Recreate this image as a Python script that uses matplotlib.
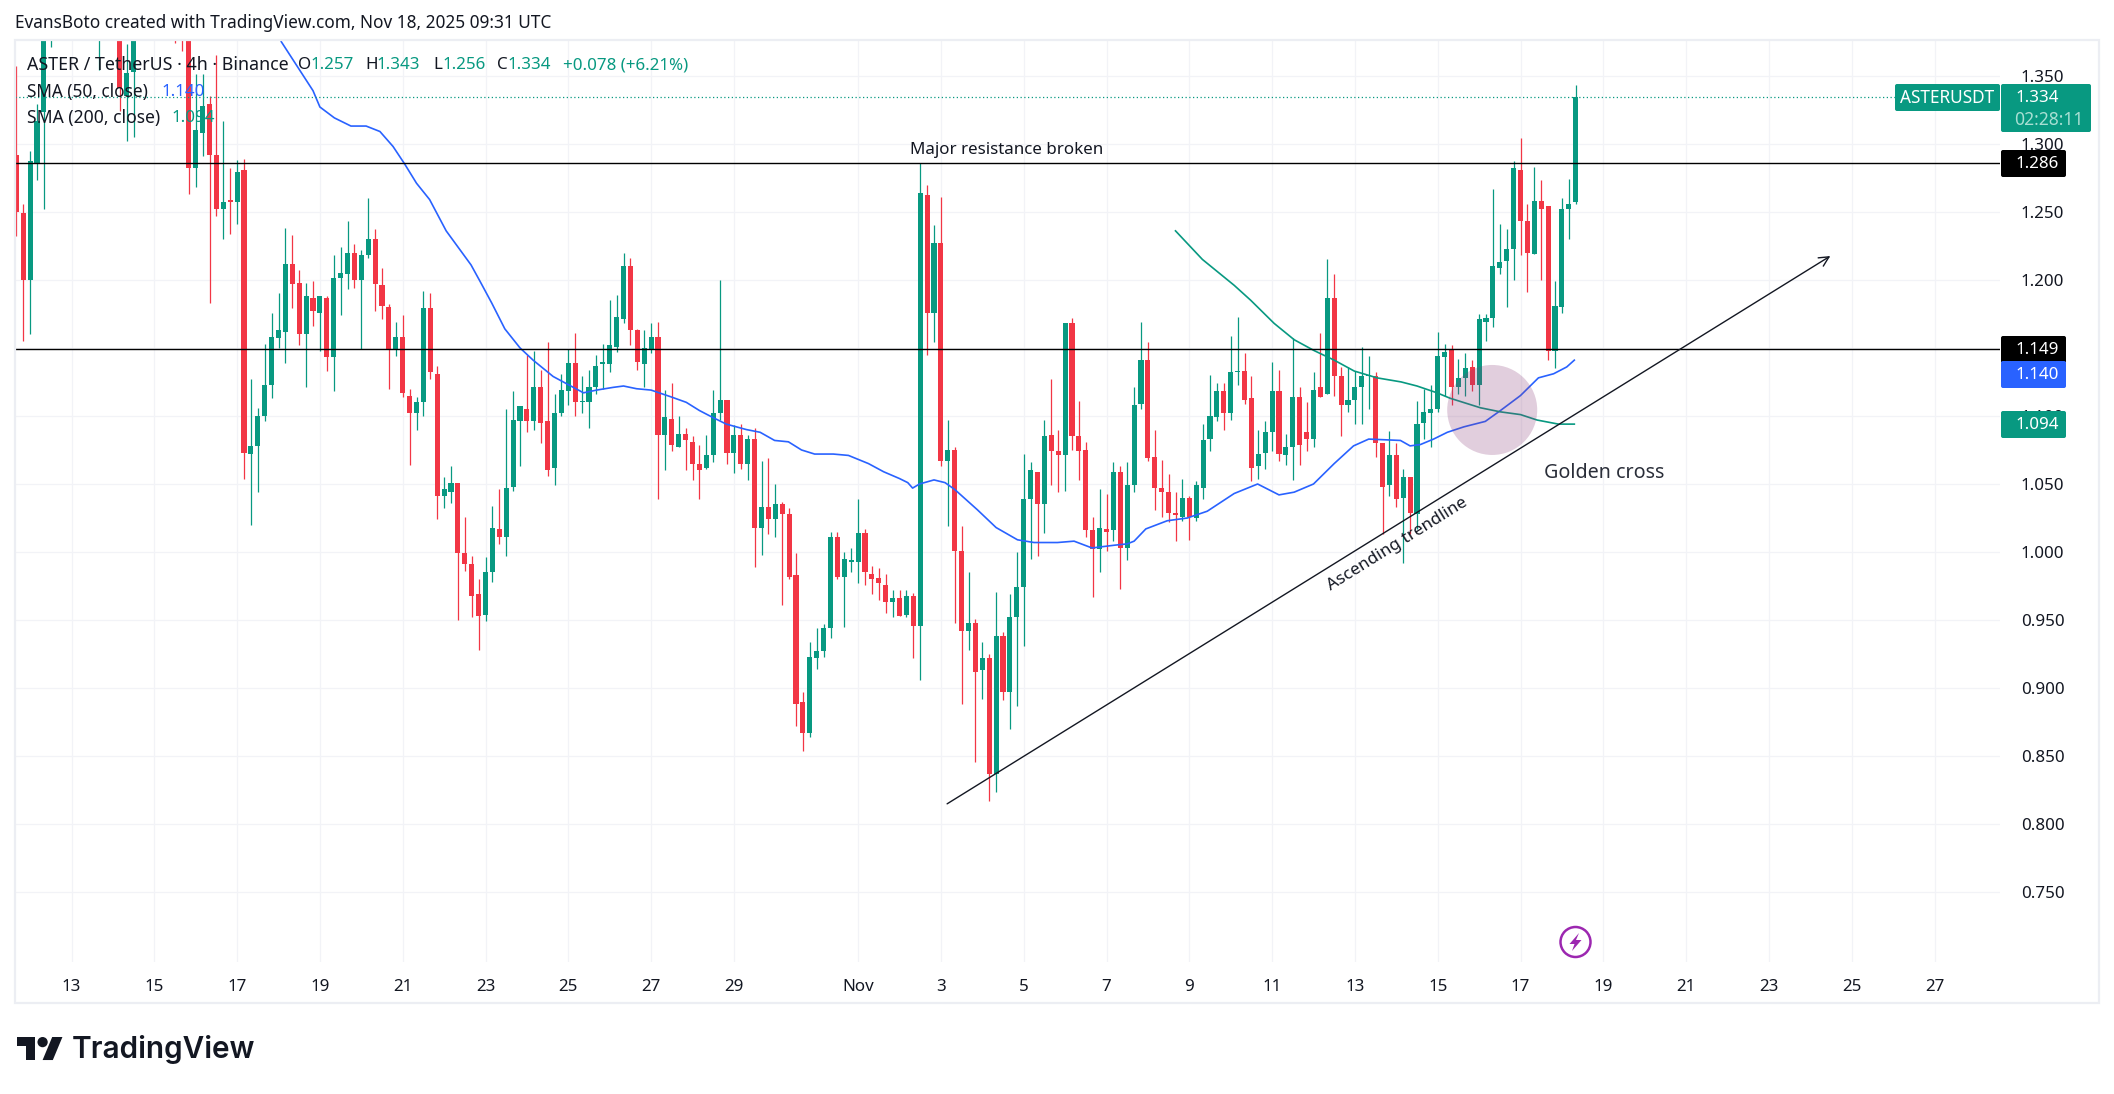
import matplotlib
matplotlib.use('Agg')
import matplotlib.pyplot as plt
from matplotlib.patches import Circle, Ellipse, FancyBboxPatch, Polygon, Rectangle

plt.rcParams['font.family'] = ['Noto Sans', 'DejaVu Sans']

GREEN = '#089981'
RED = '#F23645'
BLUE = '#2962FF'
GRID = '#F2F3F7'

W, H = 2114, 1094

# 4h candles, first one is Oct 11 16:00 utc. those above the pane top are guessed
opens = [
    1.292, 1.249, 1.200, 1.285, 1.323, 1.402, 1.43, 1.45, 1.42, 1.44,
    1.42, 1.43, 1.41, 1.43, 1.41, 1.40, 1.335, 1.353, 1.395, 1.42,
    1.41, 1.43, 1.41, 1.40, 1.395, 1.39, 1.282, 1.308, 1.329, 1.292,
    1.252, 1.259, 1.257, 1.281, 1.072, 1.078, 1.100, 1.123, 1.157, 1.162,
    1.212, 1.198, 1.160, 1.187, 1.176, 1.187, 1.143, 1.201, 1.204, 1.220,
    1.200, 1.218, 1.230, 1.196, 1.180, 1.149, 1.158, 1.115, 1.102, 1.110,
    1.179, 1.131, 1.041, 1.044, 1.051, 0.999, 0.991, 0.969, 0.954, 0.985,
    1.017, 1.011, 1.048, 1.096, 1.105, 1.096, 1.121, 1.096, 1.062, 1.102,
    1.118, 1.139, 1.110, 1.110, 1.121, 1.138, 1.138, 1.151, 1.171, 1.210,
    1.163, 1.138, 1.149, 1.158, 1.086, 1.098, 1.077, 1.087, 1.081, 1.065,
    1.062, 1.071, 1.102, 1.112, 1.073, 1.086, 1.065, 1.083, 1.018, 1.033,
    1.024, 1.035, 1.028, 0.983, 0.890, 0.867, 0.922, 0.927, 0.944, 1.011,
    0.982, 0.993, 0.993, 1.014, 0.984, 0.981, 0.976, 0.963, 0.966, 0.954,
    0.968, 0.946, 1.262, 1.176, 1.227, 1.067, 1.075, 1.001, 0.942, 0.948,
    0.913, 0.922, 0.837, 0.938, 0.897, 0.952, 0.974, 1.039, 1.059, 1.035,
    1.086, 1.074, 1.071, 1.168, 1.085, 1.075, 1.016, 1.002, 1.017, 1.016,
    1.059, 1.003, 1.049, 1.109, 1.141, 1.070, 1.047, 1.044, 1.029, 1.026,
    1.040, 1.025, 1.047, 1.083, 1.099, 1.118, 1.102, 1.132, 1.133, 1.113,
    1.063, 1.073, 1.088, 1.118, 1.071, 1.077, 1.114, 1.088, 1.083, 1.121,
    1.116, 1.187, 1.129, 1.108, 1.112, 1.121, 1.129, 1.129, 1.080, 1.049,
    1.071, 1.040, 1.055, 1.028, 1.095, 1.102, 1.105, 1.143, 1.149, 1.121,
    1.128, 1.136, 1.123, 1.169, 1.172, 1.209, 1.214, 1.223, 1.281, 1.243,
    1.219, 1.258, 1.254, 1.148, 1.180, 1.252, 1.257,
]
highs = [
    1.357, 1.256, 1.295, 1.329, 1.425, 1.45, 1.47, 1.46, 1.46, 1.45,
    1.45, 1.44, 1.45, 1.44, 1.42, 1.42, 1.373, 1.41, 1.44, 1.44,
    1.45, 1.44, 1.43, 1.42, 1.41, 1.41, 1.351, 1.351, 1.335, 1.365,
    1.317, 1.282, 1.288, 1.289, 1.127, 1.106, 1.153, 1.176, 1.190, 1.238,
    1.233, 1.207, 1.198, 1.199, 1.188, 1.188, 1.218, 1.224, 1.243, 1.226,
    1.222, 1.260, 1.237, 1.209, 1.182, 1.169, 1.174, 1.120, 1.114, 1.192,
    1.190, 1.137, 1.055, 1.063, 1.051, 1.026, 0.997, 0.980, 0.996, 1.034,
    1.046, 1.105, 1.118, 1.107, 1.145, 1.148, 1.134, 1.154, 1.116, 1.131,
    1.149, 1.161, 1.129, 1.134, 1.145, 1.153, 1.185, 1.189, 1.220, 1.216,
    1.164, 1.163, 1.168, 1.169, 1.119, 1.124, 1.100, 1.091, 1.085, 1.079,
    1.086, 1.119, 1.200, 1.112, 1.093, 1.094, 1.086, 1.091, 1.067, 1.069,
    1.050, 1.037, 1.032, 0.999, 0.897, 0.934, 0.944, 0.947, 1.015, 1.015,
    1.000, 1.003, 1.039, 1.017, 0.990, 0.988, 0.984, 0.972, 0.972, 0.972,
    0.970, 1.286, 1.270, 1.240, 1.261, 1.097, 1.077, 1.019, 0.985, 0.951,
    0.934, 0.925, 0.971, 0.941, 0.969, 1.000, 1.072, 1.066, 1.059, 1.097,
    1.127, 1.090, 1.168, 1.172, 1.111, 1.081, 1.026, 1.046, 1.043, 1.066,
    1.063, 1.066, 1.121, 1.169, 1.154, 1.090, 1.068, 1.057, 1.044, 1.054,
    1.041, 1.052, 1.094, 1.130, 1.124, 1.124, 1.159, 1.173, 1.146, 1.129,
    1.090, 1.096, 1.140, 1.134, 1.087, 1.157, 1.121, 1.110, 1.132, 1.161,
    1.215, 1.204, 1.136, 1.136, 1.133, 1.151, 1.144, 1.132, 1.080, 1.089,
    1.080, 1.061, 1.055, 1.111, 1.120, 1.123, 1.162, 1.153, 1.152, 1.142,
    1.146, 1.141, 1.175, 1.175, 1.267, 1.241, 1.237, 1.287, 1.304, 1.256,
    1.283, 1.273, 1.254, 1.199, 1.260, 1.274, 1.343,
]
lows = [
    1.232, 1.155, 1.160, 1.273, 1.252, 1.371, 1.41, 1.40, 1.41, 1.40,
    1.405, 1.395, 1.354, 1.39, 1.385, 1.324, 1.302, 1.305, 1.385, 1.39,
    1.40, 1.39, 1.385, 1.374, 1.368, 1.263, 1.268, 1.291, 1.183, 1.247,
    1.230, 1.234, 1.241, 1.054, 1.020, 1.044, 1.096, 1.113, 1.150, 1.139,
    1.179, 1.152, 1.121, 1.166, 1.148, 1.133, 1.118, 1.174, 1.193, 1.194,
    1.149, 1.216, 1.177, 1.171, 1.120, 1.144, 1.114, 1.064, 1.090, 1.100,
    1.127, 1.024, 1.032, 1.036, 0.950, 0.986, 0.952, 0.928, 0.949, 0.978,
    1.006, 0.997, 1.045, 1.063, 1.088, 1.090, 1.080, 1.056, 1.049, 1.100,
    1.108, 1.100, 1.102, 1.091, 1.116, 1.120, 1.132, 1.147, 1.168, 1.152,
    1.134, 1.121, 1.146, 1.039, 1.060, 1.074, 1.077, 1.060, 1.053, 1.039,
    1.061, 1.066, 1.097, 1.065, 1.058, 1.061, 1.053, 0.989, 0.998, 1.013,
    1.011, 0.961, 0.980, 0.872, 0.854, 0.864, 0.914, 0.923, 0.937, 0.980,
    0.945, 0.985, 0.977, 0.976, 0.969, 0.965, 0.955, 0.952, 0.953, 0.952,
    0.922, 0.906, 1.145, 1.154, 1.063, 1.019, 0.948, 0.888, 0.928, 0.846,
    0.892, 0.817, 0.824, 0.891, 0.870, 0.887, 0.931, 0.995, 0.997, 1.014,
    1.049, 1.044, 1.045, 1.075, 1.053, 1.011, 0.967, 0.985, 1.001, 1.008,
    0.973, 0.994, 1.044, 1.105, 1.067, 1.031, 1.026, 1.022, 1.008, 1.023,
    1.009, 1.023, 1.039, 1.074, 1.096, 1.090, 1.097, 1.123, 1.109, 1.052,
    1.054, 1.061, 1.074, 1.067, 1.064, 1.053, 1.064, 1.074, 1.077, 1.114,
    1.116, 1.115, 1.085, 1.103, 1.094, 1.094, 1.105, 1.070, 1.013, 1.041,
    1.033, 0.992, 1.013, 1.017, 1.083, 1.077, 1.103, 1.115, 1.108, 1.116,
    1.115, 1.118, 1.108, 1.155, 1.165, 1.204, 1.180, 1.200, 1.218, 1.191,
    1.219, 1.200, 1.141, 1.135, 1.176, 1.230, 1.256,
]
closes = [
    1.250, 1.200, 1.287, 1.317, 1.402, 1.43, 1.45, 1.42, 1.44, 1.42,
    1.43, 1.41, 1.43, 1.41, 1.40, 1.341, 1.352, 1.395, 1.42, 1.41,
    1.43, 1.41, 1.40, 1.395, 1.39, 1.282, 1.310, 1.328, 1.292, 1.252,
    1.257, 1.257, 1.279, 1.073, 1.078, 1.100, 1.123, 1.158, 1.163, 1.212,
    1.197, 1.160, 1.188, 1.177, 1.188, 1.143, 1.201, 1.205, 1.220, 1.200,
    1.218, 1.230, 1.197, 1.181, 1.149, 1.158, 1.117, 1.102, 1.110, 1.179,
    1.132, 1.041, 1.046, 1.051, 0.999, 0.991, 0.968, 0.953, 0.985, 1.018,
    1.011, 1.047, 1.097, 1.107, 1.096, 1.121, 1.095, 1.060, 1.102, 1.119,
    1.139, 1.110, 1.111, 1.121, 1.137, 1.140, 1.152, 1.173, 1.210, 1.163,
    1.140, 1.150, 1.158, 1.086, 1.099, 1.079, 1.087, 1.082, 1.065, 1.060,
    1.071, 1.102, 1.112, 1.073, 1.086, 1.065, 1.083, 1.018, 1.033, 1.024,
    1.035, 1.028, 0.982, 0.888, 0.867, 0.923, 0.927, 0.944, 1.011, 0.982,
    0.995, 0.994, 1.014, 0.985, 0.980, 0.977, 0.963, 0.966, 0.953, 0.968,
    0.946, 1.264, 1.176, 1.227, 1.067, 1.075, 1.001, 0.942, 0.948, 0.912,
    0.922, 0.837, 0.938, 0.897, 0.952, 0.974, 1.039, 1.060, 1.035, 1.085,
    1.074, 1.071, 1.168, 1.085, 1.074, 1.016, 1.002, 1.018, 1.015, 1.059,
    1.003, 1.049, 1.108, 1.141, 1.069, 1.047, 1.044, 1.029, 1.027, 1.040,
    1.026, 1.049, 1.082, 1.100, 1.118, 1.102, 1.132, 1.133, 1.112, 1.062,
    1.072, 1.088, 1.118, 1.072, 1.077, 1.114, 1.079, 1.083, 1.119, 1.114,
    1.187, 1.129, 1.108, 1.112, 1.121, 1.129, 1.130, 1.080, 1.048, 1.071,
    1.039, 1.055, 1.029, 1.094, 1.103, 1.105, 1.144, 1.147, 1.121, 1.128,
    1.135, 1.123, 1.171, 1.172, 1.210, 1.213, 1.223, 1.282, 1.243, 1.220,
    1.258, 1.252, 1.148, 1.181, 1.252, 1.256, 1.334,
]

sma50_pos = [
    38.4, 43, 44, 46.1, 48.5, 50.7, 52.7, 54.6, 56.3, 58, 59.9, 62.3, 65.9, 67.2,
    68.9, 70.8, 73, 74.9, 77.8, 80, 82.2, 84.1, 86.5, 88, 89.9, 92, 94.9, 97.1,
    99, 100.9, 102.9, 105.8, 107.8, 109.9, 111.9, 113.8, 115.7, 118.4, 120.6,
    123.5, 125.7, 128, 129.2, 129.9, 130.9, 133, 134.6, 136, 139.3, 142, 145.1,
    147.5, 150.9, 153.3, 155.9, 159.1, 161, 162, 163.7, 166.8, 169.7, 172.6,
    176.5, 179.9, 183, 185.2, 188, 191, 193.8, 196, 200.6, 202, 203.5, 205.4,
    207.4, 209.8, 212.9, 215.1, 218, 220.6, 222.8, 224.7, 225.8,
]
sma50 = [
    1.375, 1.339, 1.327, 1.319, 1.313, 1.313, 1.309, 1.298, 1.285, 1.271, 1.259, 1.236, 1.211, 1.199,
    1.183, 1.164, 1.150, 1.141, 1.129, 1.123, 1.117, 1.119, 1.121, 1.122, 1.120, 1.119, 1.114, 1.110,
    1.104, 1.099, 1.094, 1.090, 1.088, 1.082, 1.081, 1.075, 1.072, 1.072, 1.071,
    1.065, 1.059, 1.054, 1.051, 1.047, 1.050, 1.053, 1.051, 1.046, 1.031, 1.018, 1.009,
    1.007, 1.007, 1.008, 1.003, 1.005, 1.006, 1.008, 1.017, 1.023, 1.025, 1.030,
    1.043, 1.050, 1.042, 1.044, 1.050, 1.065, 1.078, 1.083, 1.082, 1.078, 1.079, 1.083,
    1.088, 1.092, 1.096, 1.104, 1.115, 1.128, 1.131, 1.136, 1.141,
]
sma200_pos = [
    168, 171.9, 176.5, 178.9, 182.3, 185.2, 188.1, 191, 193.9, 197.2, 200.7,
    203, 205.9, 207.8, 212.2, 215.1, 218, 220.4, 223.5, 225.8,
]
sma200 = [
    1.236, 1.215, 1.196, 1.185, 1.168, 1.156, 1.148, 1.141, 1.133, 1.128, 1.125,
    1.122, 1.117, 1.113, 1.106, 1.103, 1.101, 1.097, 1.094, 1.094,
]

resistance = 1.286
support = 1.149
last_price = 1.334
trend_pos = [134.9, 262.9]
trend_val = [0.815, 1.2175]

price_ticks = [0.75, 0.80, 0.85, 0.90, 0.95, 1.00, 1.05, 1.10, 1.15, 1.20, 1.25, 1.30, 1.35]
# days after Oct 13
tick_days = [0, 2, 4, 6, 8, 10, 12, 14, 16, 19, 21, 23, 25, 27, 29, 31, 33, 35, 37, 39, 41, 43, 45]
tick_labels = ['13', '15', '17', '19', '21', '23', '25', '27', '29', 'Nov', '3', '5', '7', '9',
               '11', '13', '15', '17', '19', '21', '23', '25', '27']
tick_pos = [8 + 6 * d for d in tick_days]

# pane in picture pixels, and what they are in candles / price
left, right, top, bottom = 15, 2000, 40, 962
bar_px = 6.9
x_first = 16.3
y_px_per_unit = 1361
y_135 = 75.7

fig = plt.figure(figsize=(W / 100, H / 100), dpi=100, facecolor='white')
ax = fig.add_axes([left / W, 1 - bottom / H, (right - left) / W, (bottom - top) / H])
ax.set_xlim((left - x_first) / bar_px, (right - x_first) / bar_px)
ax.set_ylim(1.35 - (bottom - y_135) / y_px_per_unit, 1.35 + (y_135 - top) / y_px_per_unit)

for s in ax.spines.values():
    s.set_visible(False)
ax.set_axisbelow(True)
ax.grid(color=GRID, lw=0.9)

ax.yaxis.tick_right()
ax.set_yticks(price_ticks)
ax.set_yticklabels([f'{p:.3f}' for p in price_ticks])
ax.tick_params(axis='y', length=0, pad=15, labelsize=12.2, labelcolor='#131722')
ax.set_xticks(tick_pos)
ax.set_xticklabels(tick_labels)
ax.tick_params(axis='x', length=0, pad=12, labelsize=12.2, labelcolor='#131722')
for lab in ax.get_xticklabels():
    if lab.get_text() == 'Nov':
        lab.set_fontweight('semibold')

# candles
for i in range(len(opens)):
    col = GREEN if closes[i] >= opens[i] else RED
    ax.vlines(i, lows[i], highs[i], color=col, lw=0.9, zorder=2)
    ax.bar(i, max(abs(closes[i] - opens[i]), 0.0012), bottom=min(opens[i], closes[i]),
           width=0.74, color=col, lw=0, zorder=3)

ax.plot(sma50_pos, sma50, color=BLUE, lw=1.2, zorder=4, solid_joinstyle='round')
ax.plot(sma200_pos, sma200, color=GREEN, lw=1.2, zorder=4, solid_joinstyle='round')

ax.axhline(resistance, color='black', lw=1.0, zorder=5)
ax.axhline(support, color='black', lw=1.0, zorder=5)
ax.plot([ax.get_xlim()[0], (1895 - x_first) / bar_px], [last_price, last_price],
        color=GREEN, lw=0.9, ls=(0, (1, 2)), zorder=5)

# golden cross blob, 90 px across
ax.add_patch(Ellipse((213.9, 1.1044), 90 / bar_px, 90 / y_px_per_unit,
                     facecolor='#883C78', edgecolor='none', alpha=0.25, zorder=6))

ax.annotate('', xy=(trend_pos[1], trend_val[1]), xytext=(trend_pos[0], trend_val[0]),
            arrowprops=dict(arrowstyle='->,head_length=0.7,head_width=0.35', color='#131722',
                            lw=1.0, shrinkA=0, shrinkB=0), zorder=6)

# everything else is placed in picture pixels
ov = fig.add_axes([0, 0, 1, 1], facecolor='none')
ov.set_xlim(0, W)
ov.set_ylim(H, 0)
ov.axis('off')

ov.add_patch(Rectangle((left, top), 2099 - left, 1003 - top, fill=False, edgecolor='#ECEEF3', lw=1.6))


def label(x, y, txt, col='#131722', size=12.2, **kw):
    ov.text(x, y, txt, color=col, fontsize=size, va='center', ha=kw.pop('ha', 'left'), **kw)


def tag(x0, x1, y0, y1, col):
    ov.add_patch(FancyBboxPatch((x0 + 2, y0 + 2), x1 - x0 - 4, y1 - y0 - 4, boxstyle='round,pad=2,rounding_size=2',
                                facecolor=col, edgecolor='none'))


label(15, 23, 'EvansBoto created with TradingView.com, Nov 18, 2025 09:31 UTC', size=12.4)

label(27, 65, 'ASTER / TetherUS · 4h · Binance', size=12.8)
for x, txt, col in [(298, 'O', '#131722'), (310, '1.257', GREEN), (365, 'H', '#131722'), (376, '1.343', GREEN),
                    (433, 'L', '#131722'), (442, '1.256', GREEN), (497, 'C', '#131722'), (507, '1.334', GREEN),
                    (563, '+0.078 (+6.21%)', GREEN)]:
    label(x, 65, txt, col)
label(27, 91.5, 'SMA (50, close)', size=12.4)
label(161, 91.5, '1.140', BLUE)
label(27, 117.5, 'SMA (200, close)', size=12.6)
label(171, 117.5, '1.094', GREEN)

label(1007, 150, 'Major resistance broken', ha='center', size=12.2)
label(1604, 473, 'Golden cross', '#2A2E39', ha='center', size=14.2)
ov.text(1397, 544, 'Ascending trendline', color='#131722', fontsize=12.3, rotation=32,
        ha='center', va='center', rotation_mode='anchor')

# price tags on the scale
tag(1895, 2000, 84, 111, GREEN)
label(1947.5, 98, 'ASTERUSDT', 'white', ha='center', size=12.4, fontweight='semibold')
tag(2001, 2091, 84, 132, GREEN)
label(2015, 98.5, '1.334', 'white', fontweight='semibold')
label(2014, 120, '02:28:11', '#A8DFD3', size=12.6)
tag(2001, 2066, 150, 177, 'black')
label(2015, 164, '1.286', 'white', fontweight='semibold')
tag(2001, 2066, 336, 363, 'black')
label(2015, 350, '1.149', 'white', fontweight='semibold')
tag(2001, 2066, 361, 388, BLUE)
label(2015, 375, '1.140', 'white', fontweight='semibold')
tag(2001, 2066, 411, 438, GREEN)
label(2015, 425, '1.094', 'white', fontweight='semibold')

# news flash icon
ov.add_patch(Circle((1575.5, 942), 15, facecolor='white', edgecolor='#9C27B0', lw=1.8))
ov.add_patch(Polygon([(1579, 933), (1569.5, 944), (1574.5, 944), (1572, 951), (1581.5, 940), (1576, 940)],
                     facecolor='#9C27B0', edgecolor='none'))

# logo, svg is 36 wide
sc = 1.28
ox, oy = 17, 1037 - 4 * sc
logo_a = [(14, 22), (7, 22), (7, 11), (0, 11), (0, 4), (14, 4)]
logo_b = [(28, 22), (20, 22), (27.5, 4), (35.5, 4)]
for pts in (logo_a, logo_b):
    ov.add_patch(Polygon([(ox + a * sc, oy + b * sc) for a, b in pts], facecolor='#131722', edgecolor='none'))
ov.add_patch(Circle((ox + 20 * sc, oy + 8 * sc), 4 * sc, facecolor='#131722', edgecolor='none'))
ov.text(72, 1050, 'TradingView', color='#131722', fontsize=21.4, fontweight='semibold', va='center',
        family=['Inter', 'DejaVu Sans'])

fig.savefig('out.png', dpi=100, facecolor='white')
